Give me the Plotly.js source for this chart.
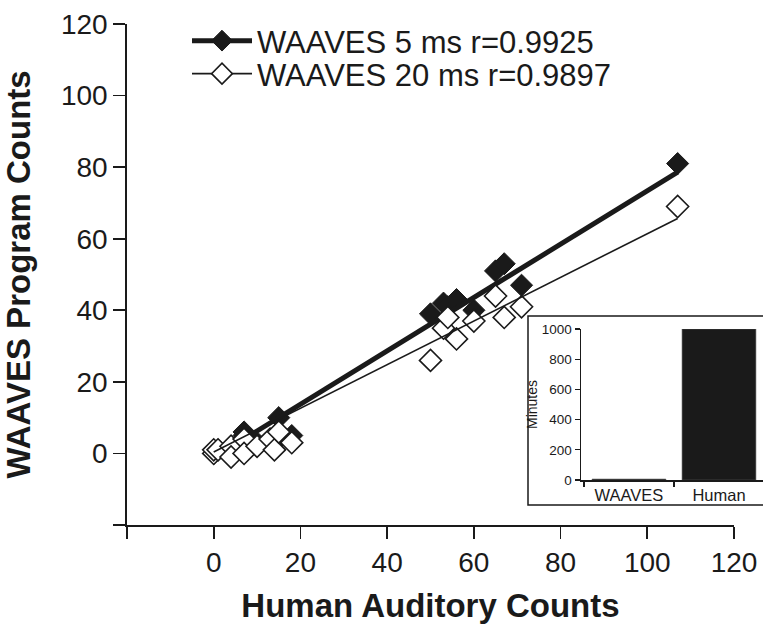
<!DOCTYPE html>
<html><head><meta charset="utf-8">
<script src="https://cdn.plot.ly/plotly-3.0.1.min.js"></script>
<style>html,body{margin:0;padding:0;background:#fff}</style>
</head><body><div id="chart" style="width:763px;height:627px"></div>
<script>
// ---- data ----
const humanCounts = [0, 0, 1, 4, 4, 7, 7, 10, 13, 14, 15, 18, 50, 53, 54, 56, 60, 65, 67, 71, 107];
const waaves5ms   = [0, 0, 1, 2, 1, 5, 6, 3, 4, 3, 10, 5, 39, 42, 41, 43, 40, 51, 53, 47, 81];
const waaves20ms  = [0, 1, 1, 2, -1, 4, 0, 2, 4, 1, 6, 3, 26, 35, 38, 32, 37, 44, 38, 41, 69];
const fit5ms  = {slope: 0.746, intercept: -1.2};
const fit20ms = {slope: 0.61, intercept: 0.4};
const seriesNames = ['WAAVES 5 ms r=0.9925', 'WAAVES 20 ms r=0.9897'];
const insetCategories = ['WAAVES', 'Human'];
const insetMinutes = [6, 1000];
const axisTicks = [-20, 0, 20, 40, 60, 80, 100, 120];
const insetTicks = [0, 200, 400, 600, 800, 1000];

// ---- styling ----
const INK = '#1a1a1a';
const FONT = 'Liberation Sans, Arial, Helvetica, sans-serif';
const xMin = Math.min(...humanCounts), xMax = Math.max(...humanCounts);
const fitX = [xMin, xMax];
const fitY = f => fitX.map(x => f.slope * x + f.intercept);
const tickText = axisTicks.map(v => v === -20 ? '' : String(v));

const filledMarker = {symbol: 'diamond', size: 17, color: INK, line: {color: INK, width: 1}};
const openMarker = {symbol: 'diamond', size: 17, color: '#ffffff', line: {color: INK, width: 1.6}};

const traces = [
  {x: humanCounts, y: waaves5ms, type: 'scatter', mode: 'markers', marker: filledMarker,
   showlegend: false, cliponaxis: false},
  {x: fitX, y: fitY(fit5ms), type: 'scatter', mode: 'lines+markers', name: seriesNames[0],
   line: {color: INK, width: 5}, marker: filledMarker, legend: 'legend',
   selectedpoints: [], unselected: {marker: {opacity: 0}}},
  {x: humanCounts, y: waaves20ms, type: 'scatter', mode: 'markers', marker: openMarker,
   showlegend: false, cliponaxis: false},
  {x: fitX, y: fitY(fit20ms), type: 'scatter', mode: 'lines+markers', name: seriesNames[1],
   line: {color: INK, width: 1.6}, marker: openMarker, legend: 'legend2',
   selectedpoints: [], unselected: {marker: {opacity: 0}}},
  {x: insetCategories, y: insetMinutes, type: 'bar', xaxis: 'x2', yaxis: 'y2',
   marker: {color: INK, line: {color: '#555', width: 0.6}}, showlegend: false}
];

const mainAxis = {
  range: [-20, 120], tickvals: axisTicks, ticktext: tickText,
  ticks: 'outside', ticklen: 12, tickwidth: 1.8, tickcolor: INK,
  showline: true, linewidth: 1.8, linecolor: INK, showgrid: false, zeroline: false,
  tickfont: {family: FONT, size: 28, color: INK}, automargin: false
};
const legendBase = {
  xanchor: 'left', yanchor: 'middle', bgcolor: 'rgba(0,0,0,0)', borderwidth: 0,
  font: {family: FONT, size: 31, color: INK}, itemwidth: 60, itemclick: false, itemdoubleclick: false
};

const layout = {
  width: 763, height: 627,
  margin: {l: 127, r: 0, t: 24, b: 102, pad: 0},
  paper_bgcolor: '#ffffff', plot_bgcolor: 'rgba(0,0,0,0)',
  font: {family: FONT, color: INK},
  hovermode: false,
  bargap: 0.18,
  xaxis: Object.assign({}, mainAxis, {
    domain: [0, 607 / 636], anchor: 'y',
    title: {text: 'Human Auditory Counts', standoff: 16,
            font: {family: FONT, size: 33, weight: 'bold', color: INK}}
  }),
  yaxis: Object.assign({}, mainAxis, {
    domain: [0, 1], anchor: 'x',
    title: {text: 'WAAVES Program Counts', standoff: 20,
            font: {family: FONT, size: 33, weight: 'bold', color: INK}}
  }),
  xaxis2: {
    domain: [(581 - 127) / 636, 1], anchor: 'y2', type: 'category',
    range: [-0.533, 1.489], tickson: 'boundaries',
    ticks: 'outside', ticklen: 5, tickwidth: 1.2, tickcolor: INK,
    showline: true, linewidth: 1.5, linecolor: INK, showgrid: false, zeroline: false,
    tickfont: {family: FONT, size: 16.5, color: INK}, automargin: false
  },
  yaxis2: {
    domain: [(525 - 480) / 501, (525 - 329) / 501], anchor: 'x2',
    range: [0, 1000], tickvals: insetTicks,
    ticks: 'outside', ticklen: 5, tickwidth: 1.2, tickcolor: INK,
    showline: true, linewidth: 1.5, linecolor: INK, showgrid: false, zeroline: false,
    tickfont: {family: FONT, size: 13.5, color: INK}, automargin: false,
    title: {text: 'Minutes', standoff: 1, font: {family: FONT, size: 14, color: INK}}
  },
  legend: Object.assign({}, legendBase, {x: (187 - 127) / 636, y: (525 - 41) / 501}),
  legend2: Object.assign({}, legendBase, {x: (187 - 127) / 636, y: (525 - 74) / 501}),
  shapes: [{
    type: 'rect', xref: 'paper', yref: 'paper', layer: 'above',
    x0: (528 - 127) / 636, x1: 1.05, y0: (525 - 505) / 501, y1: (525 - 316) / 501,
    line: {color: INK, width: 1.5}, fillcolor: 'rgba(0,0,0,0)'
  }]
};

Plotly.newPlot('chart', traces, layout, {displayModeBar: false, staticPlot: true});
</script></body></html>
